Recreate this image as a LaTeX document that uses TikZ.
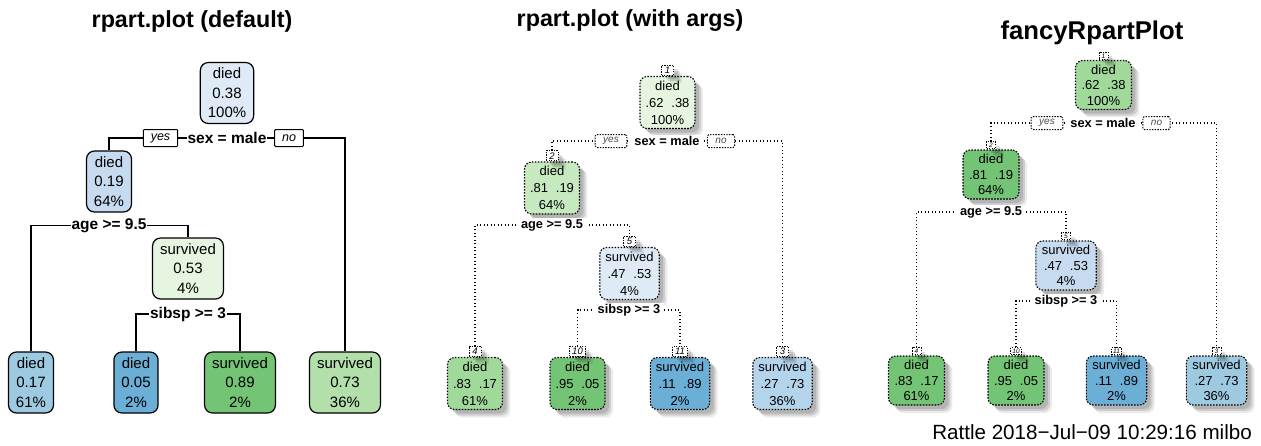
\documentclass[tikz,border=0pt]{standalone}
\usepackage{fontspec}
\setmainfont{Liberation Sans}
\usetikzlibrary{shadows,backgrounds}
\definecolor{bA}{HTML}{DEEBF7}
\definecolor{bB}{HTML}{C6DBEF}
\definecolor{bC}{HTML}{9ECAE1}
\definecolor{bD}{HTML}{6BAED6}
\definecolor{bE}{HTML}{B4D4EC}
\definecolor{gA}{HTML}{E5F5E0}
\definecolor{gB}{HTML}{C7E9C0}
\definecolor{gC}{HTML}{A1D99B}
\definecolor{gD}{HTML}{74C476}
\definecolor{gE}{HTML}{B3DFAB}
\begin{document}
\begin{tikzpicture}[x=1pt,y=-1pt,
  titlestyle/.style={font=\fontsize{23.3}{26}\selectfont\bfseries, inner sep=0pt},
  p1box/.style={draw, line width=1.2pt, rounded corners=8pt, inner xsep=7.5pt, inner ysep=0pt,
    minimum height=61pt, align=center, font=\fontsize{15}{19.5}\selectfont},
  p1yn/.style={draw, line width=1pt, fill=white, rounded corners=1pt, inner xsep=7.5pt, inner ysep=0pt,
    minimum height=17pt, font=\fontsize{12.5}{14}\selectfont\itshape},
  p1split/.style={fill=white, inner xsep=1pt, inner ysep=1pt, font=\fontsize{15.5}{17}\selectfont\bfseries},
  p1line/.style={line width=1.3pt},
  softshadow/.style={
    drop shadow={shadow xshift=4pt, shadow yshift=-4pt, fill=black, opacity=.12},
    drop shadow={shadow xshift=6pt, shadow yshift=-6pt, fill=black, opacity=.12},
    drop shadow={shadow xshift=8pt, shadow yshift=-8pt, fill=black, opacity=.08}},
  fbox/.style={draw, line width=1.1pt, dash pattern=on 1.6pt off 1.4pt, rounded corners=7pt,
    inner xsep=5.5pt, inner ysep=0pt, align=center, softshadow},
  p2box/.style={fbox, minimum height=52pt, font=\fontsize{13}{17}\selectfont},
  p3box/.style={fbox, minimum height=49pt, inner xsep=6pt, font=\fontsize{13}{15.5}\selectfont},
  numbox/.style={draw, line width=1pt, dash pattern=on 1.3pt off 1.2pt, fill=white, inner ysep=0pt,
    anchor=south, softshadow},
  p2num/.style={numbox, inner xsep=2.5pt, minimum width=12pt, minimum height=10pt,
    font=\fontsize{9.5}{10}\selectfont\itshape},
  p3num/.style={numbox, inner xsep=1.5pt, minimum width=9pt, minimum height=7pt,
    font=\fontsize{6.5}{7}\selectfont\itshape},
  fyn/.style={draw, line width=1pt, dash pattern=on 1.4pt off 1.3pt, fill=white, rounded corners=1.5pt,
    inner xsep=8pt, inner ysep=0pt, minimum height=13pt, text=black!70,
    font=\fontsize{10}{11}\selectfont\itshape},
  fsplit/.style={fill=white, inner xsep=4pt, inner ysep=1pt, font=\fontsize{12.8}{14}\selectfont\bfseries},
  dotline/.style={line width=1.1pt, dash pattern=on 1pt off 2.5pt}
]
\useasboundingbox (0,0) rectangle (1261,445);

% ---------------- titles ----------------
\node[titlestyle] (t1) at (192,21) {rpart.plot (default)};
\node[titlestyle] (t2) at (630,21) {rpart.plot (with args)};
\node[titlestyle, font=\fontsize{25.7}{28}\selectfont\bfseries] (t3) at (1092,33) {fancyRpartPlot};

% ---------------- panel 1 ----------------
\node[p1box, fill=bA] (p1n1) at (227,93) {died\\0.38\\100\%};
\node[p1box, fill=bB] (p1n2) at (109,181.5) {died\\0.19\\64\%};
\node[p1box, fill=gA] (p1n5) at (188,268.5) {survived\\0.53\\4\%};
\node[p1box, fill=bC] (p1n4) at (31,382.5) {died\\0.17\\61\%};
\node[p1box, fill=bD] (p1n10) at (136,382.5) {died\\0.05\\2\%};
\node[p1box, fill=gD] (p1n11) at (240,382.5) {survived\\0.89\\2\%};
\node[p1box, fill=gE] (p1n3) at (345,382.5) {survived\\0.73\\36\%};
\coordinate (p1s1) at (227,138);
\coordinate (p1s2) at (109,225.5);
\coordinate (p1s3) at (188,314);
\begin{pgfonlayer}{background}
\fill[white] (0,0) rectangle (1261,445);
\draw[p1line] (p1n2.north) |- (p1s1) -| (p1n3.north);
\draw[p1line] (p1n4.north) |- (p1s2) -| (p1n5.north);
\draw[p1line] (p1n10.north) |- (p1s3) -| (p1n11.north);
\end{pgfonlayer}
\node[p1split] (p1l1) at (p1s1) {sex = male};
\node[p1yn] (p1yes) at (160.5,138) {yes};
\node[p1yn] (p1no) at (289,138) {no};
\node[p1split] (p1l2) at (p1s2) {age >= 9.5};
\node[p1split] (p1l3) at (p1s3) {sibsp >= 3};

% ---------------- panel 2 ----------------
\node[p2box, fill=gA] (p2n1) at (667.5,102.5) {died\\.62\hspace{.6em}.38\\100\%};
\node[p2box, fill=gB] (p2n2) at (552,188) {died\\.81\hspace{.6em}.19\\64\%};
\node[p2box, fill=bA] (p2n5) at (629.5,273.5) {survived\\.47\hspace{.6em}.53\\4\%};
\node[p2box, fill=gC] (p2n4) at (475,383.5) {died\\.83\hspace{.6em}.17\\61\%};
\node[p2box, fill=gD] (p2n10) at (577.5,383.5) {died\\.95\hspace{.6em}.05\\2\%};
\node[p2box, fill=bD] (p2n11) at (680,383.5) {survived\\.11\hspace{.6em}.89\\2\%};
\node[p2box, fill=bE] (p2n3) at (782.5,383.5) {survived\\.27\hspace{.6em}.73\\36\%};
\node[p2num] (p2k1) at (p2n1.north) {1};
\node[p2num] (p2k2) at (p2n2.north) {2};
\node[p2num] (p2k5) at (p2n5.north) {5};
\node[p2num] (p2k4) at (p2n4.north) {4};
\node[p2num] (p2k10) at (p2n10.north) {10};
\node[p2num] (p2k11) at (p2n11.north) {11};
\node[p2num] (p2k3) at (p2n3.north) {3};
\coordinate (p2s1) at (667,141);
\coordinate (p2s2) at (552,225);
\coordinate (p2s3) at (629,310);
\begin{pgfonlayer}{background}
\draw[dotline] (p2k2.north) |- (p2s1) -| (p2k3.north);
\draw[dotline] (p2k4.north) |- (p2s2) -| (p2k5.north);
\draw[dotline] (p2k10.north) |- (p2s3) -| (p2k11.north);
\end{pgfonlayer}
\node[fsplit] (p2l1) at (p2s1) {sex = male};
\node[fyn] (p2yes) at (611,141) {yes};
\node[fyn] (p2no) at (721,141) {no};
\node[fsplit] (p2l2) at (p2s2) {age >= 9.5};
\node[fsplit] (p2l3) at (p2s3) {sibsp >= 3};

% ---------------- panel 3 ----------------
\node[p3box, fill=gC] (p3n1) at (1103.5,85) {died\\.62\hspace{.6em}.38\\100\%};
\node[p3box, fill=gD] (p3n2) at (991,174.5) {died\\.81\hspace{.6em}.19\\64\%};
\node[p3box, fill=bB] (p3n5) at (1066,265.5) {survived\\.47\hspace{.6em}.53\\4\%};
\node[p3box, fill=gD] (p3n4) at (916.5,380.5) {died\\.83\hspace{.6em}.17\\61\%};
\node[p3box, fill=gD] (p3n10) at (1016,380.5) {died\\.95\hspace{.6em}.05\\2\%};
\node[p3box, fill=bD] (p3n11) at (1116.5,380.5) {survived\\.11\hspace{.6em}.89\\2\%};
\node[p3box, fill=bC] (p3n3) at (1216.5,380.5) {survived\\.27\hspace{.6em}.73\\36\%};
\node[p3num] (p3k1) at (p3n1.north) {1};
\node[p3num] (p3k2) at (p3n2.north) {2};
\node[p3num] (p3k5) at (p3n5.north) {5};
\node[p3num] (p3k4) at (p3n4.north) {4};
\node[p3num] (p3k10) at (p3n10.north) {10};
\node[p3num] (p3k11) at (p3n11.north) {11};
\node[p3num] (p3k3) at (p3n3.north) {3};
\coordinate (p3s1) at (1103,123);
\coordinate (p3s2) at (991,212);
\coordinate (p3s3) at (1066,301);
\begin{pgfonlayer}{background}
\draw[dotline] (p3k2.north) |- (p3s1) -| (p3k3.north);
\draw[dotline] (p3k4.north) |- (p3s2) -| (p3k5.north);
\draw[dotline] (p3k10.north) |- (p3s3) -| (p3k11.north);
\end{pgfonlayer}
\node[fsplit] (p3l1) at (p3s1) {sex = male};
\node[fyn] (p3yes) at (1047,123) {yes};
\node[fyn] (p3no) at (1156.5,123) {no};
\node[fsplit] (p3l2) at (p3s2) {age >= 9.5};
\node[fsplit] (p3l3) at (p3s3) {sibsp >= 3};

% ---------------- footer ----------------
\node[anchor=east, inner sep=0pt, font=\fontsize{20.6}{22}\selectfont] (foot) at (1252,432) {Rattle 2018−Jul−09 10:29:16 milbo};
\end{tikzpicture}
\end{document}
